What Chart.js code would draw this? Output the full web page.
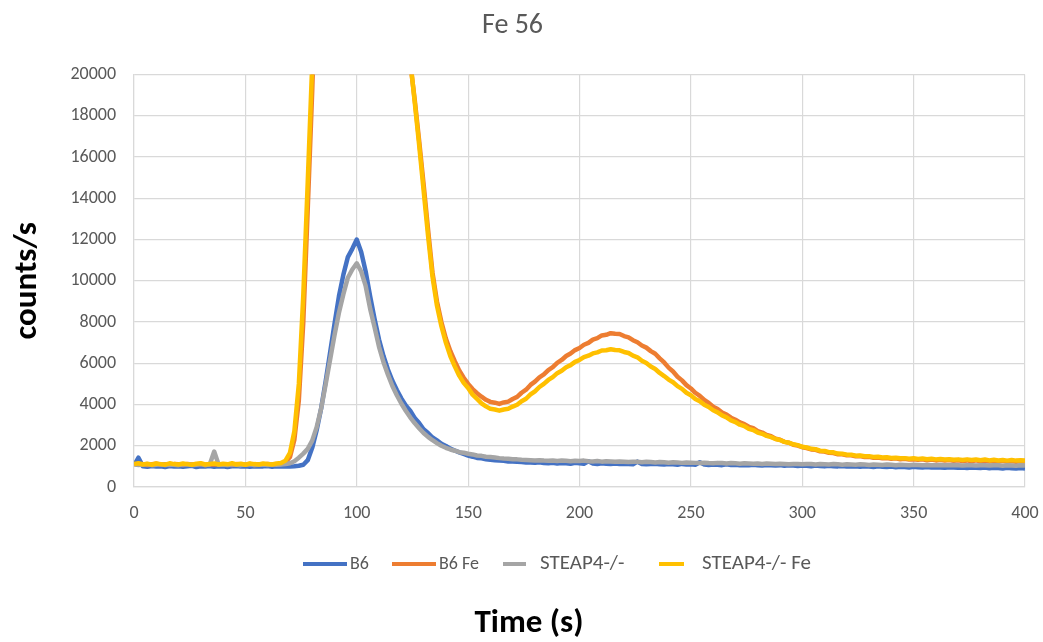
<!DOCTYPE html>
<html>
<head>
<meta charset="utf-8">
<script src="https://cdn.jsdelivr.net/npm/chart.js@4.4.1/dist/chart.umd.min.js"></script>
<style>
  html, body { margin: 0; padding: 0; background: #ffffff; overflow: hidden; }
  #wrap { position: absolute; left: 0; top: 0; width: 1120px; height: 642px; }
</style>
</head>
<body>
<div id="wrap"><canvas id="chart"></canvas></div>
<script>
// Sampling: one reading every 2 s from 0 to 400 s
const T_START = 0;
const T_STEP = 2;

const seriesNames = ['B6', 'B6 Fe', 'STEAP4-/-', 'STEAP4-/- Fe'];
const seriesColors = ['#4472C4', '#ED7D31', '#A5A5A5', '#FFC000'];
const xTicks = [0, 50, 100, 150, 200, 250, 300, 350, 400];
const yTicks = [0, 2000, 4000, 6000, 8000, 10000, 12000, 14000, 16000, 18000, 20000];

// counts/s, B6
const b6 = [
  1050, 1420, 1000, 980, 1020, 990, 1010, 970, 1020, 990,
  1010, 980, 1000, 1030, 970, 1000, 990, 1020, 980, 1000,
  1010, 970, 1000, 1020, 990, 1000, 980, 1010, 990, 1000,
  1020, 980, 1000, 990, 1010, 1000, 1010, 1030, 1080, 1300,
  1900, 2750, 3800, 5100, 6500, 7900, 9250, 10300, 11150, 11550,
  12000, 11400, 10450, 9250, 8150, 7150, 6350, 5700, 5150, 4700,
  4300, 3950, 3700, 3350, 3100, 2800, 2620, 2400, 2260, 2100,
  1990, 1860, 1770, 1680, 1600, 1520, 1470, 1410, 1390, 1350,
  1320, 1300, 1280, 1270, 1240, 1240, 1220, 1210, 1190, 1190,
  1170, 1200, 1160, 1150, 1180, 1140, 1160, 1150, 1130, 1170,
  1150, 1130, 1250, 1140, 1120, 1150, 1130, 1120, 1140, 1110,
  1130, 1120, 1100, 1230, 1120, 1100, 1110, 1130, 1100, 1090,
  1110, 1100, 1080, 1120, 1090, 1100, 1080, 1200, 1090, 1070,
  1090, 1080, 1060, 1100, 1070, 1080, 1060, 1070, 1050, 1080,
  1060, 1040, 1070, 1050, 1040, 1060, 1030, 1050, 1040, 1020,
  1040, 1030, 1010, 1040, 1020, 1000, 1030, 1010, 1000, 1020,
  990, 1010, 1000, 980, 1000, 990, 970, 1000, 980, 970,
  990, 960, 980, 970, 950, 980, 960, 950, 970, 940,
  960, 950, 930, 960, 940, 930, 950, 920, 940, 930,
  920, 940, 910, 930, 920, 900, 930, 910, 900, 920,
  900
];

// counts/s, B6 Fe (main peak runs far above the 20000 axis limit)
const b6Fe = [
  1120, 1090, 1110, 1070, 1100, 1130, 1080, 1100, 1070, 1110,
  1100, 1070, 1120, 1090, 1100, 1110, 1070, 1100, 1090, 1120,
  1080, 1100, 1070, 1110, 1100, 1080, 1120, 1070, 1100, 1090,
  1110, 1090, 1100, 1120, 1200, 1450, 2300, 4200, 8000, 13500,
  19200, 26000, 34000, 42000, 49000, 54000, 57000, 59000, 60000, 60500,
  60000, 58000, 55000, 51000, 47000, 43000, 39000, 35500, 32000, 29000,
  26200, 23500, 20600, 18800, 16800, 14700, 12500, 10400, 9000, 8000,
  7200, 6600, 6100, 5650, 5300, 5000, 4750, 4550, 4380, 4230,
  4130, 4090, 4030, 4100, 4140, 4270, 4370, 4570, 4720, 4950,
  5110, 5320, 5460, 5670, 5810, 6020, 6160, 6350, 6470, 6640,
  6740, 6900, 6990, 7150, 7220, 7350, 7380, 7460, 7430, 7420,
  7320, 7260, 7120, 7020, 6860, 6760, 6590, 6460, 6240, 6040,
  5790, 5600, 5350, 5170, 4940, 4780, 4570, 4420, 4220, 4080,
  3890, 3780, 3610, 3510, 3360, 3260, 3130, 3050, 2920, 2850,
  2710, 2640, 2520, 2460, 2340, 2290, 2190, 2150, 2050, 2010,
  1930, 1890, 1820, 1800, 1730, 1720, 1660, 1650, 1590, 1590,
  1540, 1540, 1490, 1500, 1450, 1460, 1420, 1430, 1390, 1410,
  1370, 1390, 1350, 1370, 1330, 1350, 1320, 1340, 1300, 1330,
  1290, 1320, 1280, 1310, 1270, 1300, 1260, 1290, 1250, 1290,
  1250, 1280, 1240, 1270, 1230, 1270, 1230, 1260, 1220, 1260,
  1220
];

// counts/s, STEAP4-/-
const steap4 = [
  1100, 1070, 1090, 1110, 1060, 1080, 1100, 1070, 1090, 1080,
  1060, 1090, 1100, 1070, 1080, 1110, 1070, 1090, 1720, 1080,
  1090, 1070, 1100, 1080, 1060, 1090, 1100, 1070, 1080, 1090,
  1070, 1100, 1080, 1090, 1110, 1150, 1250, 1420, 1620, 1850,
  2250, 2900, 3800, 4950, 6150, 7350, 8450, 9350, 10150, 10550,
  10850, 10450, 9750, 8650, 7750, 6800, 6050, 5450, 4900, 4450,
  4050, 3700, 3380, 3100, 2850, 2620, 2430, 2270, 2130, 2000,
  1900, 1820, 1760, 1690, 1660, 1610, 1580, 1530, 1510, 1470,
  1450, 1430, 1400, 1380, 1370, 1350, 1340, 1320, 1310, 1300,
  1290, 1300, 1280, 1270, 1290, 1260, 1280, 1270, 1250, 1270,
  1260, 1280, 1250, 1240, 1260, 1230, 1250, 1240, 1220, 1240,
  1230, 1210, 1230, 1220, 1200, 1220, 1210, 1190, 1210, 1200,
  1180, 1200, 1190, 1170, 1190, 1180, 1170, 1160, 1180, 1160,
  1150, 1170, 1160, 1140, 1160, 1150, 1130, 1150, 1140, 1130,
  1140, 1120, 1140, 1130, 1110, 1130, 1120, 1100, 1120, 1110,
  1100, 1120, 1110, 1090, 1110, 1100, 1090, 1110, 1100, 1080,
  1100, 1090, 1080, 1100, 1090, 1070, 1090, 1080, 1070, 1090,
  1080, 1060, 1080, 1070, 1060, 1080, 1070, 1050, 1070, 1060,
  1050, 1070, 1060, 1050, 1070, 1060, 1040, 1060, 1050, 1040,
  1060, 1050, 1040, 1060, 1050, 1030, 1050, 1040, 1030, 1050,
  1040
];

// counts/s, STEAP4-/- Fe (main peak runs far above the 20000 axis limit)
const steap4Fe = [
  1110, 1150, 1090, 1130, 1080, 1140, 1110, 1080, 1150, 1110,
  1090, 1140, 1110, 1080, 1130, 1150, 1090, 1120, 1140, 1090,
  1130, 1100, 1150, 1090, 1130, 1080, 1140, 1110, 1090, 1140,
  1120, 1090, 1140, 1160, 1280, 1650, 2700, 5000, 9300, 14800,
  20500, 27000, 35000, 43000, 50000, 55000, 58000, 60000, 61000, 61500,
  61000, 59000, 56000, 52000, 48000, 44000, 40000, 36000, 32500, 29300,
  26400, 23600, 20700, 18700, 16600, 14400, 12200, 10200, 8800, 7800,
  7000, 6350, 5850, 5400, 5050, 4800, 4480, 4270, 4060, 3910,
  3790, 3760, 3700, 3760, 3790, 3900, 3990, 4160, 4280, 4490,
  4640, 4850, 5000, 5190, 5330, 5520, 5640, 5810, 5910, 6070,
  6160, 6300, 6370, 6480, 6530, 6620, 6630, 6680, 6640, 6630,
  6550, 6500, 6370, 6290, 6120, 6010, 5840, 5720, 5530, 5380,
  5210, 5080, 4890, 4760, 4570, 4450, 4270, 4160, 3990, 3880,
  3720, 3620, 3470, 3380, 3230, 3150, 3020, 2950, 2820, 2760,
  2640, 2580, 2480, 2420, 2330, 2280, 2190, 2150, 2070, 2030,
  1950, 1920, 1850, 1830, 1760, 1750, 1690, 1680, 1620, 1610,
  1570, 1570, 1520, 1530, 1490, 1490, 1460, 1470, 1430, 1440,
  1410, 1420, 1390, 1400, 1370, 1390, 1360, 1380, 1350, 1370,
  1340, 1360, 1330, 1350, 1320, 1340, 1310, 1340, 1310, 1330,
  1300, 1330, 1290, 1320, 1290, 1310, 1280, 1310, 1280, 1300,
  1290
];

const seriesValues = [b6, b6Fe, steap4, steap4Fe];

const FONT = 'Calibri, Carlito, "Open Sans", "Noto Sans", sans-serif';

function toPoints(values) {
  return values.map((v, i) => ({ x: T_START + i * T_STEP, y: v }));
}

const datasets = seriesNames.map((name, k) => ({
  label: name,
  data: toPoints(seriesValues[k]),
  borderColor: seriesColors[k],
  backgroundColor: seriesColors[k],
  borderWidth: 4.5,
  borderJoinStyle: 'round',
  pointRadius: 0,
  tension: 0,
  fill: false,
  order: seriesNames.length - k
}));

// Legend row and bottom axis title, drawn as canvas text under the plot
const legendLayout = [
  { lineFrom: 303, lineTo: 347, textX: 350, size: 18 },
  { lineFrom: 392, lineTo: 436, textX: 439, size: 18 },
  { lineFrom: 503, lineTo: 526, textX: 540, size: 21 },
  { lineFrom: 659, lineTo: 684, textX: 702, size: 21 }
];
const LEGEND_Y = 564;

const bottomText = {
  id: 'bottomText',
  afterDraw(chart) {
    const ctx = chart.ctx;
    ctx.save();
    chart.data.datasets.forEach((ds, i) => {
      const l = legendLayout[i];
      ctx.strokeStyle = ds.borderColor;
      ctx.lineWidth = 4;
      ctx.lineCap = 'butt';
      ctx.beginPath();
      ctx.moveTo(l.lineFrom, LEGEND_Y);
      ctx.lineTo(l.lineTo, LEGEND_Y);
      ctx.stroke();
      ctx.font = l.size + 'px ' + FONT;
      ctx.fillStyle = '#595959';
      ctx.textAlign = 'left';
      ctx.textBaseline = 'middle';
      ctx.fillText(ds.label, l.textX, LEGEND_Y);
    });
    ctx.font = 'bold 33px ' + FONT;
    ctx.fillStyle = '#000000';
    ctx.textAlign = 'center';
    ctx.textBaseline = 'middle';
    ctx.fillText('Time (s)', 529, 624);
    ctx.restore();
  }
};

new Chart(document.getElementById('chart'), {
  type: 'line',
  data: { datasets },
  plugins: [bottomText],
  options: {
    responsive: true,
    maintainAspectRatio: false,
    animation: false,
    layout: { padding: { left: 0, right: 95, top: 0, bottom: 105 } },
    plugins: {
      title: {
        display: true,
        text: 'Fe 56',
        color: '#595959',
        font: { family: FONT, size: 28, weight: 'normal' },
        padding: { top: 9, bottom: 32 }
      },
      legend: { display: false },
      tooltip: { enabled: false }
    },
    scales: {
      x: {
        type: 'linear',
        min: xTicks[0],
        max: xTicks[xTicks.length - 1],
        afterBuildTicks(scale) { scale.ticks = xTicks.map(v => ({ value: v })); },
        afterFit(scale) { scale.height = 50; },
        ticks: {
          color: '#595959', font: { family: FONT, size: 18 }, padding: 16,
          callback: v => String(v)
        },
        grid: { color: '#d9d9d9', lineWidth: 1.2, drawTicks: false },
        border: { color: '#d9d9d9', width: 1.2 }
      },
      y: {
        type: 'linear',
        min: yTicks[0],
        max: yTicks[yTicks.length - 1],
        afterBuildTicks(scale) { scale.ticks = yTicks.map(v => ({ value: v })); },
        afterFit(scale) { scale.width = 134; },
        ticks: {
          color: '#595959', font: { family: FONT, size: 18 }, padding: 18,
          callback: v => String(v)
        },
        grid: { color: '#d9d9d9', lineWidth: 1.2, drawTicks: false },
        border: { color: '#d9d9d9', width: 1.2 },
        title: {
          display: true,
          text: 'counts/s',
          color: '#000000',
          font: { family: FONT, size: 33, weight: 'bold' },
          padding: { top: 8, bottom: 0 }
        }
      }
    }
  }
});
</script>
</body>
</html>
